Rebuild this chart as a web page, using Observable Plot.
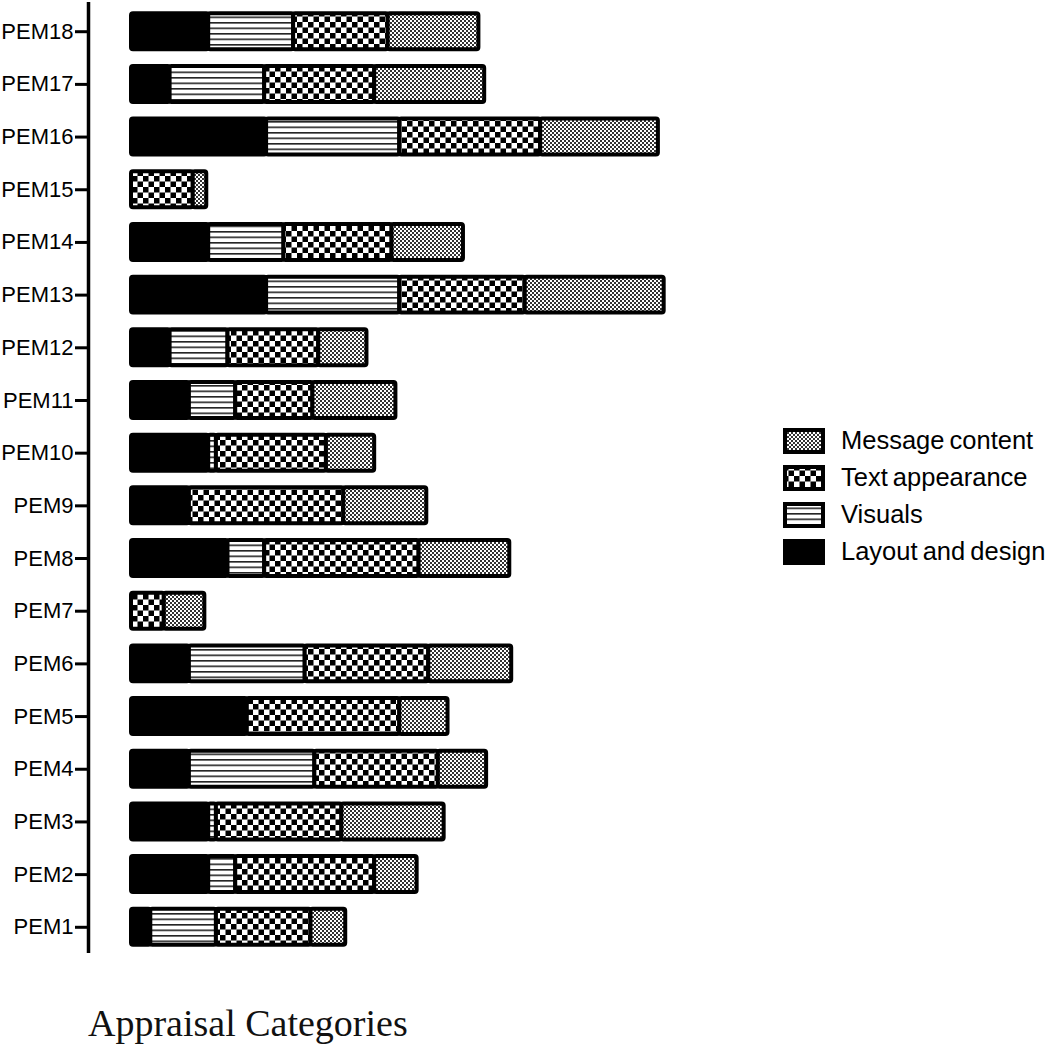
<!DOCTYPE html>
<html>
<head>
<meta charset="utf-8">
<script src="https://cdn.jsdelivr.net/npm/d3@7"></script>
<script src="https://cdn.jsdelivr.net/npm/@observablehq/plot@0.6"></script>
<style>
  html, body { margin: 0; padding: 0; background: #fff; }
  #wrap { position: relative; width: 1050px; height: 1046px; overflow: hidden; }
  #legend { position: absolute; left: 783px; top: 422px; font-family: "Liberation Sans", Arial, sans-serif; font-size: 25.5px; word-spacing: -2px; color: #000; }
  .item { display: flex; align-items: center; height: 37px; }
  .item svg { display: block; margin-right: 16px; }
  #caption { position: absolute; left: 88px; top: 1003px; font-family: "Liberation Serif", "Times New Roman", serif; font-size: 38px; line-height: 40px; color: #111; }
</style>
</head>
<body>
<svg width="0" height="0" style="position:absolute">
  <defs>
    <pattern id="pat-vis" patternUnits="userSpaceOnUse" width="6" height="5.5">
      <rect width="6" height="5.5" fill="#fff"/>
      <rect y="0" width="6" height="1.6" fill="#222"/>
    </pattern>
    <pattern id="pat-txt" patternUnits="userSpaceOnUse" width="11" height="11">
      <rect width="11" height="11" fill="#fff"/>
      <rect width="5.5" height="5.5" fill="#000"/>
      <rect x="5.5" y="5.5" width="5.5" height="5.5" fill="#000"/>
    </pattern>
    <pattern id="pat-msg" patternUnits="userSpaceOnUse" width="4" height="4">
      <rect width="4" height="4" fill="#fff"/>
      <rect width="2" height="2" fill="#333"/>
      <rect x="2" y="2" width="2" height="2" fill="#333"/>
    </pattern>
  </defs>
</svg>
<div id="wrap">
  <div id="chart"></div>
  <div id="legend"></div>
  <div id="caption">Appraisal Categories</div>
</div>
<script>
// ---- data (PEM1 .. PEM18) ----
const pems = ["PEM1","PEM2","PEM3","PEM4","PEM5","PEM6","PEM7","PEM8","PEM9","PEM10","PEM11","PEM12","PEM13","PEM14","PEM15","PEM16","PEM17","PEM18"];
const categories = ["Layout and design", "Visuals", "Text appearance", "Message content"];
const layoutDesign   = [1.0, 4.0, 4.0, 3.0, 6.0, 3.0, 0.0, 5.0, 3.0, 4.0, 3.0, 2.0, 7.0, 4.0, 0.0, 7.0, 2.0, 4.0];
const visuals        = [3.4, 1.4, 0.4, 6.5, 0.0, 6.0, 0.0, 1.9, 0.0, 0.4, 2.4, 3.0, 6.9, 3.9, 0.0, 6.9, 4.9, 4.4];
const textAppearance = [4.9, 7.2, 6.5, 6.4, 7.9, 6.4, 1.7, 8.0, 8.0, 5.7, 4.0, 4.7, 6.5, 5.6, 3.2, 7.3, 5.7, 4.9];
const messageContent = [1.8, 2.2, 5.3, 2.5, 2.5, 4.3, 2.1, 4.7, 4.3, 2.5, 4.3, 2.5, 7.2, 3.7, 0.7, 6.1, 5.7, 4.7];
const legendOrder = ["Message content", "Text appearance", "Visuals", "Layout and design"];
const fills = ["#000", "url(#pat-vis)", "url(#pat-txt)", "url(#pat-msg)"];

const series = [layoutDesign, visuals, textAppearance, messageContent];
const data = [];
pems.forEach((p, i) => {
  categories.forEach((c, j) => data.push({pem: p, category: c, value: series[j][i]}));
});

const marginLeft = 88;
const plot = Plot.plot({
  width: 1050,
  height: 960,
  marginLeft,
  marginRight: 340,
  marginTop: 4,
  marginBottom: 6,
  style: {fontFamily: "'Liberation Sans', Arial, sans-serif", fontSize: "22px", color: "#000", background: "#fff", overflow: "visible"},
  x: {domain: [0, 30], insetLeft: 43, axis: null},
  y: {domain: pems.slice().reverse(), paddingInner: 0.317, paddingOuter: 0.175, round: false, axis: null, label: null},
  color: {domain: categories, range: fills, type: "ordinal"},
  marks: [
    Plot.barX(data, Plot.stackX({x: "value", y: "pem", fill: "category", z: "category", order: categories, stroke: "#000", strokeWidth: 4, rx: 2})),
    Plot.axisY({tickSize: 13, tickPadding: 2, strokeWidth: 3, fontSize: 22, label: null})
  ]
});

// vertical axis line at the frame's left edge
d3.select(plot).append("line")
  .attr("x1", marginLeft + 0.5).attr("x2", marginLeft + 0.5)
  .attr("y1", 2).attr("y2", 953)
  .attr("stroke", "#000").attr("stroke-width", 3.5);

document.getElementById("chart").appendChild(plot);

// legend
const legend = d3.select("#legend");
legendOrder.forEach(c => {
  const row = legend.append("div").attr("class", "item");
  const s = row.append("svg").attr("width", 42).attr("height", 26);
  s.append("rect").attr("x", 2).attr("y", 2).attr("width", 38).attr("height", 22)
    .attr("fill", fills[categories.indexOf(c)]).attr("stroke", "#000").attr("stroke-width", 4);
  row.append("span").text(c);
});
</script>
</body>
</html>
